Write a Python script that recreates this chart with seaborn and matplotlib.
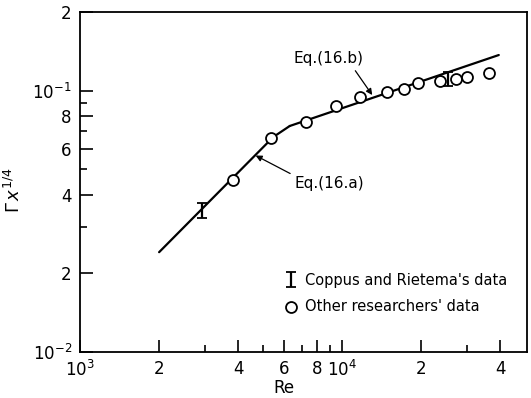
import matplotlib
matplotlib.use("Agg")
import matplotlib.pyplot as plt
import seaborn as sns

# values
eq16a_re = [2000, 5450, 6300]
eq16a_val = [0.0241, 0.0665, 0.0733]
eq16b_re = [6300, 39500]
eq16b_val = [0.0733, 0.137]

other_re = [3840, 5355, 7295, 9485, 11700, 14790, 17170, 19410, 23600, 27120, 29780, 36220]
other_val = [0.0456, 0.0659, 0.0762, 0.0877, 0.0943, 0.0990, 0.1018, 0.1066, 0.1085, 0.1111, 0.1130, 0.1168]

coppus_re = [2910, 25360]
coppus_val = [0.0348, 0.1109]
coppus_lo = [0.0326, 0.1043]
coppus_hi = [0.0372, 0.1175]

xticks = [1e3, 2e3, 4e3, 6e3, 8e3, 1e4, 2e4, 4e4]
xticklabels = ['$10^3$', '2', '4', '6', '8', '$10^4$', '2', '4']
xminor = [3e3, 5e3, 7e3, 9e3, 3e4]
yticks = [1e-2, 2e-2, 4e-2, 6e-2, 8e-2, 1e-1, 2e-1]
yticklabels = ['$10^{-2}$', '2', '4', '6', '8', '$10^{-1}$', '2']
yminor = [3e-2, 5e-2, 7e-2, 9e-2]

sns.set_style("ticks", rc={'text.color': 'black', 'axes.labelcolor': 'black',
                           'xtick.color': 'black', 'ytick.color': 'black',
                           'axes.edgecolor': 'black'})
plt.rcParams['font.family'] = ['DejaVu Sans']
plt.rcParams['mathtext.fontset'] = 'dejavusans'

fig = plt.figure(figsize=(5.31, 3.98), dpi=100)
ax = fig.add_axes([0.151, 0.1156, 0.841, 0.854])

# fitted equations
sns.lineplot(x=eq16a_re, y=eq16a_val, ax=ax, color='black', lw=1.6,
             sort=False, estimator=None)
sns.lineplot(x=eq16b_re, y=eq16b_val, ax=ax, color='black', lw=1.6,
             sort=False, estimator=None)

# data
err = [[v - lo for v, lo in zip(coppus_val, coppus_lo)],
       [hi - v for v, hi in zip(coppus_val, coppus_hi)]]
ax.errorbar(coppus_re, coppus_val, yerr=err, fmt='none', ecolor='black',
            elinewidth=1.6, capsize=3.5, capthick=1.3, zorder=4,
            label="Coppus and Rietema's data")
sns.scatterplot(x=other_re, y=other_val, ax=ax, marker='o', s=62,
                color='white', edgecolor='black', linewidth=1.3, zorder=3,
                label="Other researchers' data")

ax.set_xscale('log')
ax.set_yscale('log')
ax.set_xlim(1e3, 5.05e4)
ax.set_ylim(1e-2, 2e-1)

ax.set_xticks(xticks)
ax.set_xticklabels(xticklabels)
ax.set_xticks(xminor, minor=True)
ax.set_xticklabels([''] * len(xminor), minor=True)
ax.set_yticks(yticks)
ax.set_yticklabels(yticklabels)
ax.set_yticks(yminor, minor=True)
ax.set_yticklabels([''] * len(yminor), minor=True)

ax.tick_params(which='both', direction='in', width=1.2, color='black',
               labelcolor='black', labelsize=12, top=False, right=False)
ax.tick_params(which='major', length=9, pad=6)
ax.tick_params(which='minor', length=5)
for sp in ax.spines.values():
    sp.set_visible(True)
    sp.set_linewidth(1.3)
    sp.set_color('black')

ax.set_xlabel('Re', fontsize=12)
ax.xaxis.set_label_coords(0.457, -0.08)
ax.set_ylabel(r'$\Gamma\,x^{1/4}$', fontsize=13)
ax.yaxis.set_label_coords(-0.125, 0.476)

arrow = dict(arrowstyle='-|>', color='black', lw=0.9, mutation_scale=9,
             shrinkA=1, shrinkB=0)
ax.annotate('Eq.(16.b)', xy=(13000, 0.0963), xytext=(8850, 0.1325),
            ha='center', va='center', fontsize=11,
            arrowprops=dict(arrow, relpos=(0.84, 0.0)))
ax.annotate('Eq.(16.a)', xy=(4670, 0.0565), xytext=(8930, 0.0442),
            ha='center', va='center', fontsize=11,
            arrowprops=dict(arrow, relpos=(0.0, 1.0)))

handles, labels = ax.get_legend_handles_labels()
order = [labels.index("Coppus and Rietema's data"),
         labels.index("Other researchers' data")]
ax.legend([handles[i] for i in order], [labels[i] for i in order],
          loc='upper left', bbox_to_anchor=(0.44, 0.255), frameon=False,
          fontsize=10.5, borderpad=0, handlelength=1.0, handletextpad=0.45,
          labelspacing=0.75)

fig.savefig('out.png', dpi=100)
